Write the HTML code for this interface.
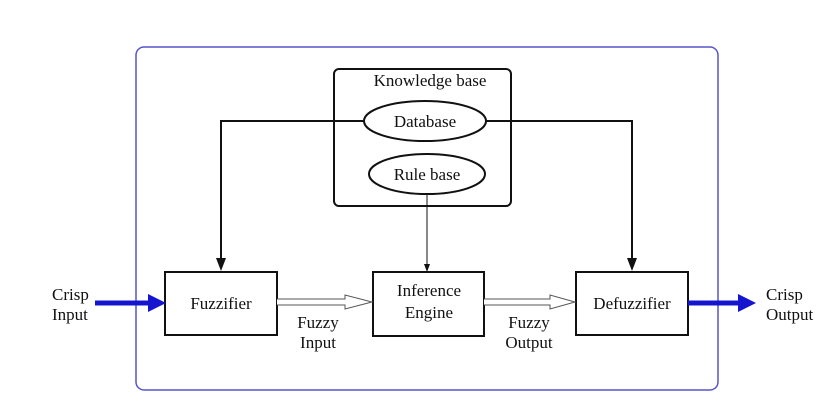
<!DOCTYPE html><html><head><style>body{margin:0;background:#fff}svg text{font-family:"Liberation Serif",serif;font-size:17px}</style></head><body>
<svg width="828" height="409" viewBox="0 0 828 409" xmlns="http://www.w3.org/2000/svg" fill="#111">
<rect x="136" y="47" width="582" height="343" rx="8" fill="none" stroke="#5555cc" stroke-width="1.5"/>
<rect x="334" y="69" width="177" height="137" rx="5" fill="none" stroke="#111" stroke-width="2"/>
<text x="430" y="86" text-anchor="middle">Knowledge base</text>
<ellipse cx="425" cy="121" rx="61" ry="20" fill="#fff" stroke="#111" stroke-width="2"/>
<text x="425" y="127" text-anchor="middle">Database</text>
<ellipse cx="427" cy="174" rx="58" ry="20" fill="#fff" stroke="#111" stroke-width="2"/>
<text x="427" y="180" text-anchor="middle">Rule base</text>
<polyline points="364,121 221,121 221,262" fill="none" stroke="#111" stroke-width="2"/>
<polygon points="216,258 226,258 221,271" fill="#111"/>
<polyline points="486,121 632,121 632,262" fill="none" stroke="#111" stroke-width="2"/>
<polygon points="627,258 637,258 632,271" fill="#111"/>
<line x1="427" y1="194" x2="427" y2="266" stroke="#111" stroke-width="1"/>
<polygon points="424,264 430,264 427,272" fill="#111"/>
<rect x="165" y="272" width="112" height="63" fill="#fff" stroke="#111" stroke-width="2"/>
<text x="221" y="309" text-anchor="middle">Fuzzifier</text>
<rect x="373" y="272" width="111" height="64" fill="#fff" stroke="#111" stroke-width="2"/>
<text x="429" y="296" text-anchor="middle">Inference</text>
<text x="429" y="318" text-anchor="middle">Engine</text>
<rect x="576" y="272" width="112" height="63" fill="#fff" stroke="#111" stroke-width="2"/>
<text x="632" y="309" text-anchor="middle">Defuzzifier</text>
<path d="M277,299 H345 V295 L372,302 L345,309 V305 H277" fill="#fff" stroke="#555" stroke-width="1"/>
<path d="M484,299 H550 V295 L575,302 L550,309 V305 H484" fill="#fff" stroke="#555" stroke-width="1"/>
<text x="318" y="328" text-anchor="middle">Fuzzy</text>
<text x="318" y="348" text-anchor="middle">Input</text>
<text x="529" y="328" text-anchor="middle">Fuzzy</text>
<text x="529" y="348" text-anchor="middle">Output</text>
<line x1="95" y1="303" x2="150" y2="303" stroke="#1515d0" stroke-width="5"/>
<polygon points="148,294 166,303 148,312" fill="#1515d0"/>
<line x1="688" y1="303" x2="740" y2="303" stroke="#1515d0" stroke-width="5"/>
<polygon points="738,294 756,303 738,312" fill="#1515d0"/>
<text x="52" y="300">Crisp</text>
<text x="52" y="320">Input</text>
<text x="766" y="300">Crisp</text>
<text x="766" y="320">Output</text>
</svg></body></html>
